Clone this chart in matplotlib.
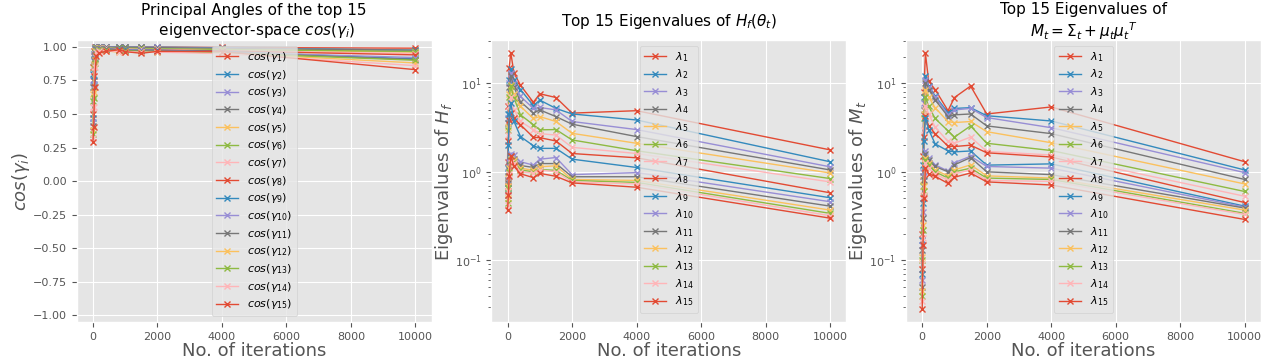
import matplotlib
matplotlib.use("Agg")
import matplotlib.pyplot as plt

plt.style.use("ggplot")

# iterations at which the spectra were recorded
iters = [0, 25, 50, 100, 200, 400, 800, 1000, 1500, 2000, 4000, 10000]

# principal angles, cos(gamma_i), one row per i
cos_gamma = [
    [0.85, 0.97, 0.995, 0.999, 0.999, 0.999, 0.999, 0.998, 0.998, 0.998, 0.995, 0.99],
    [0.80, 0.95, 0.99, 0.998, 0.999, 0.999, 0.998, 0.998, 0.997, 0.997, 0.993, 0.975],
    [0.75, 0.93, 0.985, 0.997, 0.998, 0.998, 0.997, 0.997, 0.996, 0.995, 0.99, 0.97],
    [0.70, 0.90, 0.98, 0.996, 0.997, 0.997, 0.996, 0.996, 0.995, 0.994, 0.988, 0.975],
    [0.65, 0.87, 0.97, 0.99, 0.99, 0.985, 0.97, 0.975, 0.975, 0.98, 0.98, 0.96],
    [0.60, 0.85, 0.96, 0.99, 0.993, 0.99, 0.99, 0.99, 0.988, 0.985, 0.98, 0.965],
    [0.55, 0.82, 0.95, 0.985, 0.99, 0.99, 0.985, 0.985, 0.98, 0.98, 0.97, 0.95],
    [0.50, 0.78, 0.94, 0.98, 0.985, 0.985, 0.98, 0.98, 0.978, 0.975, 0.97, 0.94],
    [0.47, 0.75, 0.93, 0.98, 0.985, 0.985, 0.98, 0.98, 0.975, 0.975, 0.965, 0.91],
    [0.44, 0.72, 0.92, 0.975, 0.98, 0.98, 0.978, 0.978, 0.975, 0.97, 0.96, 0.92],
    [0.41, 0.70, 0.91, 0.975, 0.98, 0.98, 0.975, 0.975, 0.97, 0.97, 0.96, 0.905],
    [0.38, 0.66, 0.90, 0.97, 0.975, 0.97, 0.96, 0.965, 0.96, 0.965, 0.955, 0.88],
    [0.35, 0.62, 0.88, 0.97, 0.975, 0.975, 0.97, 0.97, 0.965, 0.965, 0.955, 0.90],
    [0.32, 0.55, 0.85, 0.965, 0.97, 0.97, 0.965, 0.965, 0.96, 0.96, 0.95, 0.86],
    [0.29, 0.40, 0.70, 0.93, 0.955, 0.966, 0.978, 0.964, 0.952, 0.966, 0.965, 0.83],
]

# top 15 eigenvalues of the Hessian H_f
eig_hess = [
    [1.30, 5.5, 15.0, 22.0, 13.0, 9.5, 6.1, 7.6, 6.9, 4.6, 4.9, 1.77],
    [1.10, 4.5, 11.0, 14.3, 11.0, 8.5, 5.6, 6.45, 5.2, 4.5, 3.85, 1.30],
    [1.00, 4.0, 10.0, 13.0, 10.0, 7.1, 5.2, 5.33, 5.0, 3.7, 3.0, 1.14],
    [0.90, 3.6, 9.0, 12.0, 9.0, 6.2, 4.6, 5.0, 4.2, 3.45, 2.5, 1.05],
    [0.85, 3.2, 7.5, 9.5, 7.5, 5.5, 4.0, 4.2, 3.7, 2.72, 2.1, 0.97],
    [0.80, 3.0, 7.0, 9.2, 6.8, 4.4, 3.4, 2.98, 3.0, 2.29, 1.73, 0.84],
    [0.75, 2.6, 5.5, 7.0, 5.0, 3.7, 3.0, 2.7, 2.6, 1.89, 1.61, 0.77],
    [0.70, 2.2, 3.8, 4.6, 4.0, 3.4, 2.45, 2.43, 2.23, 1.61, 1.44, 0.58],
    [0.65, 2.0, 4.5, 6.0, 3.7, 2.5, 1.97, 1.84, 1.84, 1.39, 1.12, 0.51],
    [0.60, 0.8, 1.3, 1.6, 1.55, 1.3, 1.19, 1.39, 1.45, 0.93, 0.98, 0.46],
    [0.55, 0.75, 1.2, 1.5, 1.4, 1.18, 1.12, 1.24, 1.24, 0.88, 0.88, 0.41],
    [0.50, 0.7, 1.1, 1.4, 1.35, 1.1, 1.04, 1.14, 1.17, 0.82, 0.80, 0.37],
    [0.45, 0.65, 1.0, 1.35, 1.3, 1.05, 1.0, 1.06, 1.04, 0.80, 0.76, 0.34],
    [0.42, 0.6, 0.95, 1.3, 1.25, 1.0, 0.97, 1.05, 1.0, 0.77, 0.73, 0.32],
    [0.37, 0.55, 0.9, 1.5, 1.15, 0.95, 0.86, 0.96, 0.89, 0.75, 0.67, 0.30],
]

# top 15 eigenvalues of M_t = Sigma_t + mu_t mu_t^T
eig_m = [
    [0.20, 1.5, 8.0, 21.7, 10.5, 8.5, 4.9, 6.9, 9.3, 4.5, 5.4, 1.30],
    [0.17, 1.2, 7.0, 12.1, 9.3, 7.2, 4.65, 5.2, 5.3, 4.3, 3.75, 1.05],
    [0.15, 1.0, 6.0, 11.0, 9.0, 7.0, 4.4, 5.0, 5.2, 4.1, 3.15, 0.98],
    [0.13, 0.9, 5.0, 10.0, 8.5, 6.5, 4.2, 4.4, 4.5, 3.3, 2.7, 0.82],
    [0.11, 0.8, 4.5, 8.5, 7.0, 5.3, 3.68, 3.6, 3.7, 2.84, 2.13, 0.73],
    [0.10, 0.7, 4.0, 7.0, 5.5, 4.0, 2.9, 2.47, 3.3, 2.1, 1.74, 0.60],
    [0.09, 0.6, 3.0, 5.5, 4.5, 3.2, 2.2, 2.1, 2.47, 1.7, 1.55, 0.53],
    [0.08, 0.5, 2.5, 4.26, 3.3, 2.7, 1.95, 1.93, 2.0, 1.64, 1.47, 0.45],
    [0.07, 0.45, 2.2, 4.1, 3.0, 2.07, 1.72, 1.68, 1.72, 1.19, 1.23, 0.41],
    [0.06, 0.35, 0.9, 1.7, 1.45, 1.2, 1.02, 1.27, 1.5, 1.15, 1.1, 0.40],
    [0.05, 0.3, 0.8, 1.6, 1.35, 1.15, 1.0, 1.2, 1.45, 1.0, 0.93, 0.39],
    [0.045, 0.25, 0.7, 1.45, 1.25, 1.05, 0.9, 1.05, 1.2, 0.9, 0.85, 0.37],
    [0.04, 0.22, 0.6, 1.35, 1.2, 1.0, 0.85, 1.0, 1.1, 0.85, 0.82, 0.34],
    [0.035, 0.18, 0.55, 1.25, 1.1, 0.95, 0.8, 0.95, 1.05, 0.8, 0.78, 0.33],
    [0.028, 0.15, 0.5, 1.1, 0.95, 0.89, 0.74, 0.87, 0.97, 0.77, 0.71, 0.29],
]

fig = plt.figure(figsize=(12.8, 3.58), dpi=100)
ax1 = fig.add_subplot(1, 3, 1)
ax2 = fig.add_subplot(1, 3, 2)
ax3 = fig.add_subplot(1, 3, 3, sharey=ax2)
fig.subplots_adjust(left=0.06, right=0.985, bottom=0.10, top=0.888, wspace=0.169)

for i, row in enumerate(cos_gamma):
    ax1.plot(iters, row, marker="x", lw=1, ms=4, label=r"$cos(\gamma_{%d})$" % (i + 1))
ax1.set_ylim(-1.05, 1.05)
ax1.set_title("Principal Angles of the top 15\n eigenvector-space $cos(\\gamma_i)$",
              fontsize=11, pad=4)
ax1.set_ylabel(r"$cos(\gamma_i)$", fontsize=13, labelpad=1)

for i, row in enumerate(eig_hess):
    ax2.plot(iters, row, marker="x", lw=1, ms=4, label=r"$\lambda_{%d}$" % (i + 1))
ax2.set_yscale("log")
ax2.set_title(r"Top 15 Eigenvalues of $H_f(\theta_t)$", fontsize=11, pad=10)
ax2.set_ylabel(r"Eigenvalues of $H_f$", fontsize=13, labelpad=0)

for i, row in enumerate(eig_m):
    ax3.plot(iters, row, marker="x", lw=1, ms=4, label=r"$\lambda_{%d}$" % (i + 1))
ax3.set_yscale("log")
ax3.set_title("Top 15 Eigenvalues of\n$M_t = \\Sigma_t + \\mu_t{\\mu_t}^T$",
              fontsize=11, pad=2, y=1.0)
ax3.set_ylabel(r"Eigenvalues of $M_t$", fontsize=13, labelpad=0)

for ax in (ax1, ax2, ax3):
    ax.set_xlabel("No. of iterations", fontsize=13, labelpad=0)
    ax.tick_params(labelsize=8)
    ax.legend(loc="upper center", fontsize=8, labelspacing=0.33)

fig.savefig("out.png", dpi=100)
